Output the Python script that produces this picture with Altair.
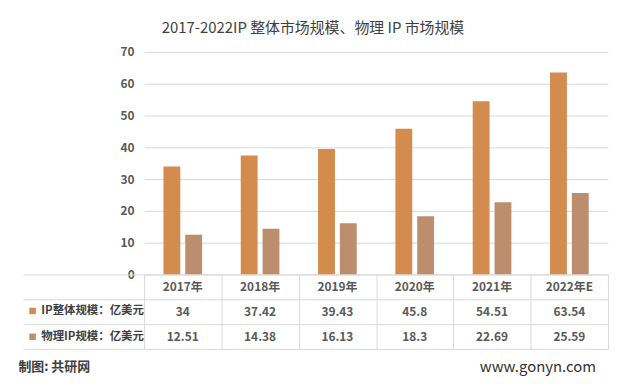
import altair as alt
import pandas as pd

# ---- data ----
categories = ["2017年", "2018年", "2019年", "2020年", "2021年", "2022年E"]
series_names = ["IP整体规模：亿美元", "物理IP规模：亿美元"]
ip_total = [34, 37.42, 39.43, 45.8, 54.51, 63.54]
ip_physical = [12.51, 14.38, 16.13, 18.3, 22.69, 25.59]
y_ticks = [0, 10, 20, 30, 40, 50, 60, 70]
header_key = "年份"

title_text = "2017-2022IP 整体市场规模、物理 IP 市场规模"
source_text = "制图: 共研网"
site_text = "www.gonyn.com"

# ---- style ----
colors = ["#D38B4E", "#BD8E6E"]
FONT = "Noto Sans CJK SC"
GRID = "#D9D9D9"
TXT = "#595959"

bars_df = pd.DataFrame({
    "category": categories * 2,
    "series": [series_names[0]] * len(categories) + [series_names[1]] * len(categories),
    "value": ip_total + ip_physical,
})

rows = []
for i, c in enumerate(categories):
    rows.append({"category": c, "row": header_key, "label": c})
    rows.append({"category": c, "row": series_names[0], "label": f"{ip_total[i]:g}"})
    rows.append({"category": c, "row": series_names[1], "label": f"{ip_physical[i]:g}"})
table_df = pd.DataFrame(rows)

x_scale = alt.Scale(type="band", domain=categories, paddingInner=0, paddingOuter=0)
row_domain = [header_key] + series_names
y_scale = alt.Scale(type="band", domain=row_domain, paddingInner=0, paddingOuter=0)
color_scale = alt.Scale(domain=series_names, range=colors)

bars = alt.Chart(bars_df).mark_bar().encode(
    x=alt.X("category:N", scale=x_scale, sort=categories, axis=None),
    xOffset=alt.XOffset("series:N", sort=series_names,
                        scale=alt.Scale(domain=series_names, paddingInner=0.227, paddingOuter=0.886)),
    y=alt.Y("value:Q", scale=alt.Scale(domain=[0, 70]),
            axis=alt.Axis(values=y_ticks, title=None, grid=True, gridColor=GRID,
                          domain=False, ticks=False, labelPadding=10, labelFontSize=12,
                          labelFontWeight="bold", labelColor=TXT, labelFont=FONT)),
    color=alt.Color("series:N", scale=color_scale, legend=None),
).properties(width=467, height=224)

table_base = alt.Chart(table_df)

text = table_base.mark_text(font=FONT, fontSize=12, fontWeight="bold", color=TXT).encode(
    x=alt.X("category:N", scale=x_scale, sort=categories,
            axis=alt.Axis(title=source_text, labels=False, ticks=False, domain=False,
                          grid=True, gridColor=GRID, tickBand="extent",
                          titleX=-127, titleY=18, titleAlign="left", titleBaseline="middle",
                          titleFont=FONT, titleFontSize=13, titleFontWeight="bold",
                          titleColor="#404040")),
    y=alt.Y("row:N", sort=row_domain, scale=y_scale,
            axis=alt.Axis(title=None, labels=False, domain=False, ticks=True, tickSize=122,
                          tickColor=GRID, tickWidth=1, tickBand="extent", grid=True,
                          gridColor=GRID, gridWidth=1, orient="left")),
    text="label:N",
)

swatch = table_base.transform_filter(
    alt.FieldOneOfPredicate(field="row", oneOf=series_names)
).mark_square(opacity=0).encode(
    color=alt.Color("row:N", scale=color_scale,
                    legend=alt.Legend(orient="none", legendX=-118, legendY=31, title=None,
                                      symbolType="square", symbolSize=42, symbolOpacity=1,
                                      symbolStrokeWidth=0, labelFontSize=11.5, labelFont=FONT,
                                      labelFontWeight="bold", labelColor="#404040",
                                      rowPadding=13, labelOffset=3, padding=0,
                                      direction="vertical")),
)

table = alt.layer(text, swatch).properties(
    width=467, height=75,
    title=alt.TitleParams(site_text, orient="bottom", anchor="end", offset=-14, dx=-12,
                          font=FONT, fontSize=15, fontWeight="normal", color="#333333"),
)

chart = alt.vconcat(bars, table, spacing=0, bounds="flush").resolve_scale(
    color="independent"
).properties(
    title=alt.TitleParams(title_text, anchor="middle", offset=10, font=FONT, fontSize=15,
                          fontWeight="normal", color="#404040"),
    padding={"left": 10, "top": 12, "right": 5, "bottom": 5},
).configure_view(stroke=None)

chart.save("out.html", embed_options={"renderer": "svg", "actions": False})
